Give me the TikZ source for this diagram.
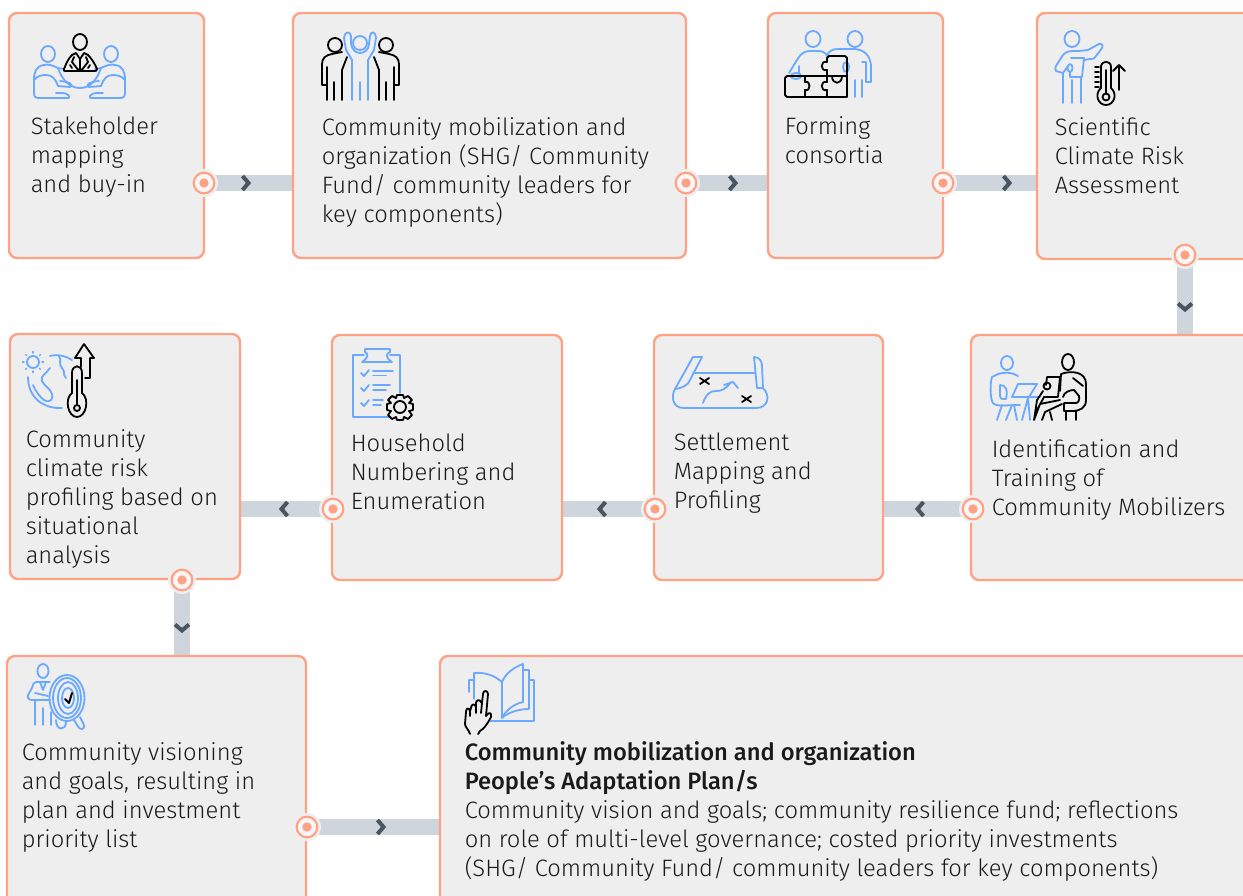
\documentclass[tikz,border=0pt]{standalone}
\usepackage{fontspec}
\setmainfont{Fira Sans Light}[BoldFont={Fira Sans Medium}]
\usetikzlibrary{backgrounds}
\definecolor{boxfill}{HTML}{EEEEEE}
\definecolor{boxedge}{HTML}{FFA184}
\definecolor{bandcol}{HTML}{CFD5DC}
\definecolor{chevcol}{HTML}{4A5560}
\definecolor{iconblue}{HTML}{6AA9FF}
\definecolor{txtcol}{HTML}{1A1A1A}
\tikzset{
 x=0.75pt,y=-0.75pt,
 card/.style={draw=boxedge,fill=boxfill,line width=1.8pt,rounded corners=6pt,inner sep=0pt,outer sep=0pt,anchor=north west},
 lbl/.style={anchor=base west,inner sep=0pt,align=left,text=txtcol,font=\fontsize{17.8}{21.75}\selectfont},
 band/.style={draw=bandcol,line width=12.5pt},
 chevron/.style={draw=chevcol,line width=3pt,miter limit=10},
 porthalo/.style={circle,fill=boxfill,minimum size=21pt,inner sep=0pt},
 portring/.style={circle,draw=boxedge,fill=boxfill!50!white,line width=1.6pt,minimum size=15.5pt,inner sep=0pt},
 portdot/.style={circle,fill=boxedge,minimum size=7pt,inner sep=0pt},
 ib/.style={draw=iconblue,line width=1.35pt,line cap=round,line join=round},
 ik/.style={draw=black,line width=1.35pt,line cap=round,line join=round},
 chev/.pic={\draw[chevron] (-2.5,-7) -- (3.5,0) -- (-2.5,7);},
}
\newcommand{\card}[5]{\node[card,minimum width=#4*0.75pt,minimum height=#5*0.75pt] (#1) at (#2,#3) {};}
\newcommand{\portat}[3]{\node[porthalo] (#1h) at (#2,#3) {};\node[portring] (#1) at (#2,#3) {};\node[portdot] (#1d) at (#2,#3) {};}
\begin{document}
\begin{tikzpicture}
\clip[use as bounding box] (0,0) rectangle (1243,896);
\card{b1}{9}{13}{195}{245}
\card{b2}{293}{13}{393}{245}
\card{b3}{768}{13}{175}{245}
\card{b4}{1037}{13}{230}{246}
\card{b5}{971}{335}{290}{245}
\card{b6}{654}{335}{229}{245}
\card{b7}{332}{335}{230}{245}
\card{b8}{10}{334}{230}{245}
\card{b9}{7}{656}{299}{260}
\card{b10}{440}{656}{830}{260}
\portat{p1}{204}{183}
\portat{p2}{686}{183}
\portat{p3}{943}{183}
\portat{p4}{1185}{255}
\portat{p5}{973}{509}
\portat{p6}{655}{509}
\portat{p7}{333}{509}
\portat{p8}{182}{580}
\portat{p9}{307}{827}
\begin{pgfonlayer}{background}
\draw[band] (p1) -- (p1 -| b2.west);
\draw[band] (p2) -- (p2 -| b3.west);
\draw[band] (p3) -- (p3 -| b4.west);
\draw[band] (p4) -- (p4 |- b5.north);
\draw[band] (p5) -- (p5 -| b6.east);
\draw[band] (p6) -- (p6 -| b7.east);
\draw[band] (p7) -- (p7 -| b8.east);
\draw[band] (p8) -- (p8 |- b9.north);
\draw[band] (p9) -- (p9 -| b10.west);
\end{pgfonlayer}
\pic at (245,183) {chev};
\pic at (732,183) {chev};
\pic at (1006,183) {chev};
\pic[rotate=-90] at (1185,306) {chev};
\pic[rotate=180] at (921,509) {chev};
\pic[rotate=180] at (603,509) {chev};
\pic[rotate=180] at (285,509) {chev};
\pic[rotate=-90] at (182,627) {chev};
\pic at (380,827) {chev};
% labels
\node[lbl] (t1) at (30.5,192) {Stakeholder\\mapping\\and buy-in};
\node[lbl] (t2) at (321.5,222) {Community mobilization and\\organization (SHG/ Community\\Fund/ community leaders for\\key components)};
\node[lbl] (t3) at (784.5,163) {Forming\\consortia};
\node[lbl] (t4) at (1054.5,193) {Scientific\\Climate Risk\\Assessment};
\node[lbl] (t5) at (991.5,515) {Identification and\\Training of\\Community Mobilizers};
\node[lbl] (t6) at (673.5,508) {Settlement\\Mapping and\\Profiling};
\node[lbl] (t7) at (350.5,509) {Household\\Numbering and\\Enumeration};
\node[lbl] (t8) at (25.5,563) {Community\\climate risk\\profiling based on\\situational\\analysis};
\node[lbl] (t9) at (21.5,847) {Community visioning\\and goals, resulting in\\plan and investment\\priority list};
\node[lbl] (t10) at (464.5,876) {\textbf{Community mobilization and organization}\\\textbf{People’s Adaptation Plan/s}\\Community vision and goals; community resilience fund; reflections\\on role of multi-level governance; costed priority investments\\(SHG/ Community Fund/ community leaders for key components)};
% icon 1
\draw[ib] (48,54) ellipse (7 and 8);
\draw[ib] (111,54) ellipse (7 and 8);
\draw[ib] (58,68) .. controls (52,65) and (48,64) .. (44,65) .. controls (36,66) and (34,72) .. (34,80) -- (34,93) .. controls (34,97) and (36,98) .. (38,98) -- (68,98) .. controls (71,98) and (69,93) .. (62,93) -- (56,93);
\draw[ib] (34,80) .. controls (37,76) and (42,75) .. (46,75) .. controls (52,75) and (55,78) .. (58,86) -- (70,87) .. controls (74,85) and (70,82) .. (60,81);
\draw[ib] (101,68) .. controls (107,65) and (111,64) .. (115,65) .. controls (123,66) and (125,72) .. (125,80) -- (125,93) .. controls (125,97) and (123,98) .. (121,98) -- (91,98) .. controls (88,98) and (90,93) .. (97,93) -- (103,93);
\draw[ib] (125,80) .. controls (122,76) and (117,75) .. (113,75) .. controls (107,75) and (104,78) .. (101,86) -- (89,87) .. controls (85,85) and (89,82) .. (99,81);
\draw[ib] (58,68) .. controls (62,80) and (70,88) .. (80,88) .. controls (90,88) and (97,80) .. (101,68);
\draw[ib] (58,68) -- (64,69) (95,69) -- (101,68);
\draw[ik] (80,42) ellipse (7 and 8);
\draw[ik] (72,55) -- (76,53) -- (80,59) -- (84,53) -- (88,55) .. controls (92,59) and (95,64) .. (97,69) .. controls (97,71) and (96,71) .. (94,71) -- (66,71) .. controls (64,71) and (63,71) .. (64,69) .. controls (66,64) and (68,59) .. (72,55) -- cycle;
\draw[ik] (74,57) -- (72,62) -- (79,71) -- (80,68) -- (81,71) -- (88,62) -- (86,57) (80,59) -- (80,68) (70,65) -- (72,68) (90,65) -- (88,68);
% icon 2
\draw[ik] (335,45) circle (7) (386,45) circle (7);
\draw[ib] (360,43) circle (7);
\draw[ib] (352,100) -- (352,60) -- (346,50) -- (344,38) .. controls (344,32) and (350,30) .. (351,36) -- (351,44) .. controls (352,50) and (356,53) .. (360,53) .. controls (364,53) and (369,50) .. (369,44) -- (370,36) .. controls (371,30) and (376,32) .. (376,38) -- (374,50) -- (368,60) -- (368,100) (360,82) -- (360,100);
\draw[ik] (322,85) -- (322,64) .. controls (322,58) and (326,55) .. (332,54) -- (342,52) (322,85) -- (327,85) -- (327,67);
\draw[ik] (399,85) -- (399,64) .. controls (399,58) and (395,55) .. (389,54) -- (379,52) (399,85) -- (394,85) -- (394,67);
\draw[ik] (327,85) -- (327,100) (334,82) -- (334,100) (342,70) -- (342,100) (342,70) -- (347,57);
\draw[ik] (394,85) -- (394,100) (386,82) -- (386,100) (379,70) -- (379,100) (379,70) -- (374,57);
% icon 3
\draw[ib] (813,39) ellipse (7.5 and 8) (855,39) ellipse (7.5 and 8);
\draw[ib] (789,73) -- (797,60) .. controls (801,53) and (805,51) .. (810,51) -- (818,51) .. controls (823,51) and (826,53) .. (827,56) .. controls (828,51) and (833,49) .. (838,49) -- (855,49) .. controls (865,50) and (870,56) .. (871,65) -- (871,82) -- (866,82) -- (866,62) -- (862,62);
\draw[ib] (796,76) ellipse (5.5 and 3) (846,67) ellipse (3 and 5) (799,66) -- (799,73) (855,80) -- (855,97) (862,80) -- (862,97);
\draw[ik] (827,76) -- (827,70) .. controls (820,72) and (820,60) .. (827,62) -- (827,58) -- (829,56) -- (845,56) -- (847,58) -- (847,97) -- (787,97) -- (785,95) -- (785,78) -- (787,76) -- (847,76);
\draw[ik] (805,76) -- (805,82) .. controls (811,80) and (811,92) .. (805,90) -- (805,97);
\draw[ik] (827,76) -- (827,82) .. controls (820,80) and (820,92) .. (827,90) -- (827,97);
\draw[ik] (832,76) .. controls (832,85) and (842,85) .. (842,76);
% icon 4
\draw[ib] (1072,39) ellipse (7.5 and 8);
\draw[ib] (1063,73) -- (1056,71) .. controls (1055,69) and (1055,68) .. (1056,66) -- (1063,55) .. controls (1066,52) and (1068,51) .. (1074,51) -- (1079,51) -- (1088,50) -- (1097,45) .. controls (1101,42) and (1104,45) .. (1102,48) -- (1096,56) .. controls (1095,58) and (1094,59) .. (1090,59) -- (1084,60);
\draw[ib] (1071,58) -- (1084,58) -- (1082,77) -- (1070,77) -- (1070,72) (1070,68) ellipse (2.5 and 4) (1063,73) -- (1063,103) (1072,80) -- (1072,103) (1081,77) -- (1081,103) (1063,73) -- (1068,66);
\draw[ik] (1101,88) -- (1101,67) .. controls (1101,60) and (1111,60) .. (1111,67) -- (1111,88) .. controls (1118,94) and (1114,105) .. (1106,105) .. controls (1098,105) and (1094,94) .. (1101,88) -- cycle;
\draw[ik] (1106,97) circle (3.5) (1106,93) -- (1106,70) (1095,67) -- (1099,67) (1095,72) -- (1099,72) (1095,77) -- (1099,77) (1095,82) -- (1099,82) (1095,87) -- (1099,87);
\draw[ik] (1119,90) -- (1119,65) (1113,71) -- (1119,65) -- (1125,71);
% icon 5
\draw[ib] (33,362) circle (6);
\foreach \a in {0,45,...,315}{\draw[ib,line width=0.9pt] (33,362) ++(\a:9) -- ++(\a:1.5);}
\draw[ib] (50,356) .. controls (58,354) and (66,356) .. (72,360);
\draw[ib] (28,377) .. controls (28,398) and (44,409) .. (62,408);
\draw[ib] (33,385) .. controls (36,392) and (40,397) .. (44,400) .. controls (50,404) and (54,398) .. (52,394) .. controls (50,388) and (44,386) .. (42,381) .. controls (40,376) and (46,374) .. (50,368);
\draw[ib] (59,356) .. controls (62,360) and (58,364) .. (62,368) .. controls (66,372) and (62,374) .. (66,378);
\draw[ik] (72,393) -- (72,373) .. controls (72,364) and (82,364) .. (82,373) -- (82,393) .. controls (90,399) and (86,417) .. (77,417) .. controls (68,417) and (64,399) .. (72,393) -- cycle;
\draw[ik] (77,408) circle (3) (77,405) -- (77,380);
\draw[ik] (84,344) -- (94,358) -- (90,358) -- (90,378) -- (85,378) (84,344) -- (75,358) -- (81,358) -- (81,367);
% icon 6
\draw[ib] (389,417) -- (353,417) -- (353,355) -- (364,355) (390,355) -- (400,355) -- (400,393);
\draw[ib] (365,349) -- (390,349) -- (390,352) .. controls (385,354) and (386,358) .. (392,362) -- (362,362) .. controls (368,358) and (369,354) .. (365,352) -- cycle;
\draw[ib] (373,371) -- (393,371) (373,375.5) -- (386,375.5) (373,385) -- (390,385) (373,390) -- (386,390) (373,400) -- (383,400) (373,405) -- (381,405);
\draw[ib] (361,373) -- (364,376) -- (369,370) (361,388) -- (364,391) -- (369,385) (361,403) -- (364,406) -- (369,400);
\draw[ik] (400,407) circle (6);
\draw[ik] (397,395) -- (403,395) -- (404,398) -- (408,396) -- (412,400) -- (409,403) -- (413,404) -- (413,410) -- (409,411) -- (412,415) -- (408,419) -- (404,417) -- (403,420) -- (397,420) -- (396,417) -- (392,419) -- (388,415) -- (391,411) -- (387,410) -- (387,404) -- (391,403) -- (388,400) -- (392,396) -- (396,398) -- cycle;
% icon 7
\draw[ib] (693,373) -- (755,373);
\draw[ib] (693,357) -- (702,357) -- (690,380) .. controls (688,385) and (683,388) .. (675,389) -- (693,357);
\draw[ib] (754,357) .. controls (760,357) and (762,362) .. (762,366) -- (763,388) -- (757,388) -- (754,357);
\draw[ib] (675,389) .. controls (671,396) and (672,408) .. (684,408) -- (756,408) .. controls (768,408) and (771,396) .. (763,388);
\draw[ib] (703,403) .. controls (706,394) and (710,391) .. (716,391) .. controls (722,391) and (726,389) .. (731,382) (724,385) -- (733,382) -- (738,388);
\draw[ik] (700,378) -- (709,384) (700,384) -- (709,378) (742,396) -- (751,402) (742,402) -- (751,396);
% icon 8
\draw[ib] (1007,363) ellipse (6 and 7);
\draw[ib] (1018,376) .. controls (1012,372) and (1004,372) .. (998,374) -- (992,377) .. controls (990,382) and (990,400) .. (993,403) .. controls (996,407) and (1006,405) .. (1020,405) (1000,385) -- (1000,396) .. controls (1000,399) and (1002,399) .. (1004,399) -- (1006,399) .. controls (1008,390) and (1006,385) .. (1000,385);
\draw[ib] (1018,384) -- (1037,384) -- (1029,397) -- (1012,397) -- cycle (1012,397) -- (1040,397);
\draw[ib] (1002,405) -- (997,420) (1014,405) -- (1017,420) (1006,420) -- (1012,405);
\draw[ib] (1028,398) -- (1022,420) (1028,398) -- (1030,420);
\draw[ik] (1068,362) ellipse (6 and 8);
\draw[ik] (1061,374) .. controls (1072,370) and (1086,372) .. (1086,384) -- (1086,400) .. controls (1086,408) and (1080,411) .. (1072,411) -- (1064,411) -- (1064,403) -- (1076,403) .. controls (1078,403) and (1080,400) .. (1079,396) -- (1074,390) .. controls (1070,390) and (1064,392) .. (1063,397) (1061,374) -- (1060,391);
\draw[ik] (1047,377) -- (1060,377) -- (1058,397) -- (1044,397) (1047,377) -- (1046,385);
\draw[ik] (1047,386) circle (3.5);
\draw[ik] (1073,378) -- (1083,386);
\draw[ik] (1043,391) -- (1037,400) -- (1034,420) (1044,397) -- (1037,410) (1060,400) -- (1040,404) -- (1034,420) (1062,404) -- (1045,412) -- (1042,420) (1050,412) -- (1052,420) (1066,411) -- (1066,420) (1076,411) -- (1076,420);
% icon 9
\draw[ib] (43,671) ellipse (5.5 and 7);
\draw[ib] (50,682) -- (36,682) .. controls (34,682) and (33,684) .. (32,688) -- (28,695) .. controls (27,698) and (29,700) .. (32,700) -- (50,700) (35,700) -- (35,725) (43,708) -- (43,725) (51,712) -- (51,725) (35,693) -- (48,696) (40,682) -- (43,690) -- (46,682);
\draw[ib] (67,698) ellipse (17.5 and 23) (67,698) ellipse (14 and 20) (68,698) ellipse (10 and 16) (68,698) ellipse (6 and 10);
\draw[ib] (56,720) .. controls (56,731) and (66,731) .. (66,722) (74,720) -- (79,728) .. controls (83,731) and (86,727) .. (83,723) -- (80,717);
\draw[ik,line width=1.5pt] (65,699) -- (69,703) -- (72,693);
% icon 10
\draw[ib] (474,699) -- (474,673) .. controls (484,672) and (494,675) .. (502,682) .. controls (505,674) and (514,667) .. (523,664) -- (523,702) .. controls (514,704) and (506,710) .. (502,718) -- (502,682);
\draw[ib] (474,680) -- (469,680) -- (469,692) (523,670) -- (529,670) -- (529,709) .. controls (518,709) and (507,713) .. (502,718);
\draw[ib] (529,680) -- (534,680) -- (534,721) -- (502,721) -- (490,721);
\draw[ik] (486,716) -- (488,694) .. controls (488,690) and (483,690) .. (483,694) -- (482,703) -- (481,702) .. controls (480,699) and (476,700) .. (476,703) -- (476,707) .. controls (475,703) and (471,704) .. (471,708) -- (470,711) .. controls (469,707) and (466,708) .. (466,712) -- (465,724) .. controls (465,727) and (469,730) .. (470,734) (482,703) -- (481,713) (476,707) -- (476,713) (470,711) -- (470,716);
\draw[ik] (486,716) .. controls (489,711) and (492,713) .. (491,717) .. controls (488,723) and (484,729) .. (480,731) -- (478,734);
\end{tikzpicture}
\end{document}
